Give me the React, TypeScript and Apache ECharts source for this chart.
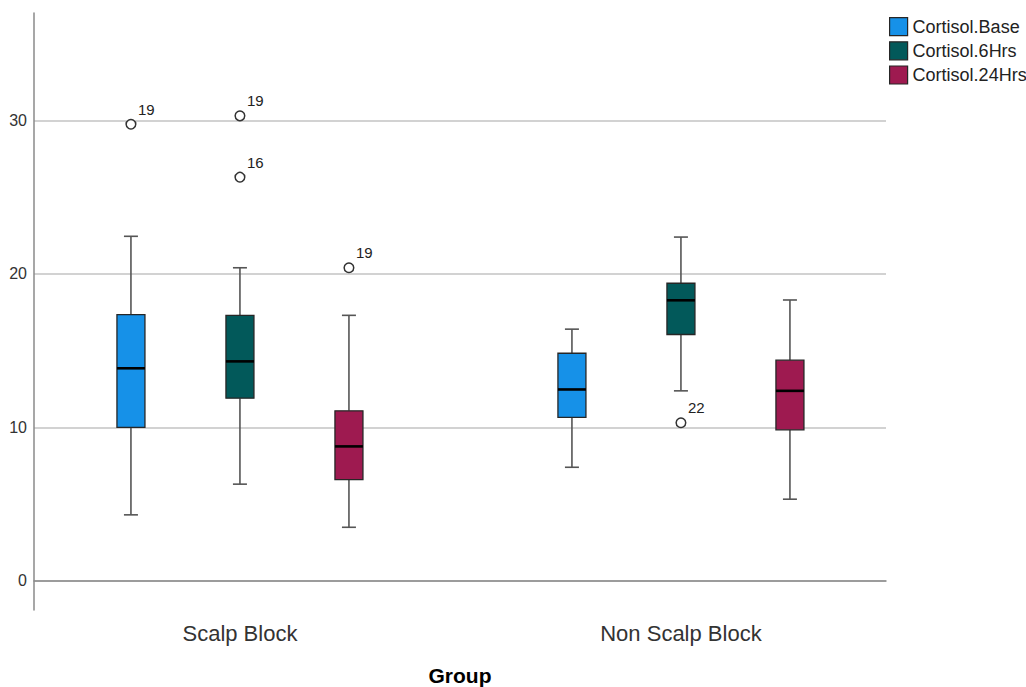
import React, { useEffect, useRef } from "react";
import * as echarts from "echarts";

// ---- data ----
const categories = ["Scalp Block", "Non Scalp Block"];
const seriesNames = ["Cortisol.Base", "Cortisol.6Hrs", "Cortisol.24Hrs"];
// [min, Q1, median, Q3, max] per category
const baseBoxes = [
  [4.3, 10.0, 13.85, 17.35, 22.45],
  [7.4, 10.65, 12.47, 14.83, 16.4],
];
const h6Boxes = [
  [6.3, 11.9, 14.3, 17.3, 20.4],
  [12.38, 16.05, 18.28, 19.39, 22.4],
];
const h24Boxes = [
  [3.49, 6.59, 8.76, 11.08, 17.3],
  [5.32, 9.84, 12.38, 14.38, 18.3],
];
// outliers: [categoryIndex, value, case label]
const baseOutliers: [number, number, string][] = [[0, 29.75, "19"]];
const h6Outliers: [number, number, string][] = [
  [0, 30.3, "19"],
  [0, 26.3, "16"],
  [1, 10.3, "22"],
];
const h24Outliers: [number, number, string][] = [[0, 20.4, "19"]];
const yTicks = [0, 10, 20, 30];

// ---- styles ----
const colors = ["#1691E8", "#02595A", "#9E1A50"];
const OFFSETS = [-109, 0, 109];
const BOX_W = 28;
const CAP_W = 14;
const FONT = "'Liberation Sans', Arial, sans-serif";

export default function App() {
  const ref = useRef<HTMLDivElement>(null);
  useEffect(() => {
    if (!ref.current) return;
    const chart = echarts.init(ref.current, undefined, { renderer: "svg" });
    const boxSets = [baseBoxes, h6Boxes, h24Boxes];
    const outSets = [baseOutliers, h6Outliers, h24Outliers];

    const boxSeries = boxSets.map((set, si) => ({
      type: "custom",
      name: seriesNames[si],
      itemStyle: { color: colors[si] },
      encode: { x: 0, y: [1, 2, 3, 4, 5] },
      data: set.map((b, ci) => [ci + 1, ...b]),
      clip: false,
      z: 3,
      renderItem: (params: any, api: any) => {
        const g = api.value(0);
        const p = (v: number) => api.coord([g, v]);
        const x = p(api.value(3))[0] + OFFSETS[si];
        const yMin = p(api.value(1))[1];
        const yQ1 = p(api.value(2))[1];
        const yMed = p(api.value(3))[1];
        const yQ3 = p(api.value(4))[1];
        const yMax = p(api.value(5))[1];
        const wStyle = { stroke: "#555", lineWidth: 1.6 };
        return {
          type: "group",
          children: [
            { type: "line", shape: { x1: x, y1: yQ1, x2: x, y2: yMin }, style: wStyle },
            { type: "line", shape: { x1: x, y1: yQ3, x2: x, y2: yMax }, style: wStyle },
            { type: "line", shape: { x1: x - CAP_W / 2, y1: yMin, x2: x + CAP_W / 2, y2: yMin }, style: wStyle },
            { type: "line", shape: { x1: x - CAP_W / 2, y1: yMax, x2: x + CAP_W / 2, y2: yMax }, style: wStyle },
            {
              type: "rect",
              shape: { x: x - BOX_W / 2, y: yQ3, width: BOX_W, height: yQ1 - yQ3 },
              style: { fill: colors[si], stroke: "#262626", lineWidth: 1.3 },
            },
            {
              type: "line",
              shape: { x1: x - BOX_W / 2, y1: yMed, x2: x + BOX_W / 2, y2: yMed },
              style: { stroke: "#000", lineWidth: 2.6 },
            },
          ],
        };
      },
    }));

    const outlierSeries = outSets.map((set, si) => ({
      type: "custom",
      name: seriesNames[si],
      itemStyle: { color: colors[si] },
      encode: { x: 0, y: 1 },
      data: set.map((o) => [o[0] + 1, o[1]]),
      clip: false,
      z: 4,
      renderItem: (params: any, api: any) => {
        const c = api.coord([api.value(0), api.value(1)]);
        const x = c[0] + OFFSETS[si];
        const y = c[1];
        return {
          type: "group",
          children: [
            {
              type: "circle",
              shape: { cx: x, cy: y, r: 4.8 },
              style: { fill: "#fff", stroke: "#333", lineWidth: 1.5 },
            },
            {
              type: "text",
              x: x + 7,
              y: y - 15,
              style: {
                text: set[params.dataIndex][2],
                fill: "#222",
                font: `15px ${FONT}`,
                align: "left",
                verticalAlign: "middle",
              },
            },
          ],
        };
      },
    }));

    chart.setOption({
      animation: false,
      textStyle: { fontFamily: FONT },
      grid: {
        left: 34,
        top: 13,
        width: 852,
        height: 597,
        containLabel: false,
        outerBoundsMode: "none",
      },
      legend: {
        orient: "vertical",
        left: 889,
        top: 17,
        padding: 0,
        itemWidth: 18,
        itemHeight: 18,
        itemGap: 5,
        icon: "rect",
        textStyle: { fontSize: 18, color: "#222", fontFamily: FONT, padding: [0, 0, 0, 0] },
        data: seriesNames.map((n, i) => ({
          name: n,
          itemStyle: { color: colors[i], borderColor: "#262626", borderWidth: 1.2 },
        })),
      },
      xAxis: {
        type: "value",
        min: 0.533,
        max: 2.465,
        name: "Group",
        nameLocation: "middle",
        nameGap: 55,
        nameTextStyle: { fontSize: 21, fontWeight: "bold", color: "#000", fontFamily: FONT },
        axisLine: { show: true, lineStyle: { color: "#8a8a8a", width: 1.5 } },
        axisTick: { show: false },
        splitLine: { show: false },
        axisLabel: {
          customValues: [1, 2],
          formatter: (v: number) => categories[Math.round(v) - 1] ?? "",
          fontSize: 22,
          color: "#333",
          margin: 12,
          fontFamily: FONT,
        },
      },
      yAxis: {
        type: "value",
        min: -1.9,
        max: 37,
        axisLine: { show: true, lineStyle: { color: "#8a8a8a", width: 1.5 } },
        axisTick: { show: false },
        splitLine: {
          show: true,
          showMinLine: false,
          showMaxLine: false,
          lineStyle: { color: "#d2d2d2", width: 2 },
        },
        axisLabel: {
          customValues: yTicks,
          fontSize: 16,
          color: "#333",
          margin: 7,
          fontFamily: FONT,
        },
      },
      series: [...boxSeries, ...outlierSeries],
    });
    return () => chart.dispose();
  }, []);
  return (
    <div
      ref={ref}
      style={{ position: "fixed", left: 0, top: 0, width: 1026, height: 687, background: "#fff" }}
    />
  );
}
